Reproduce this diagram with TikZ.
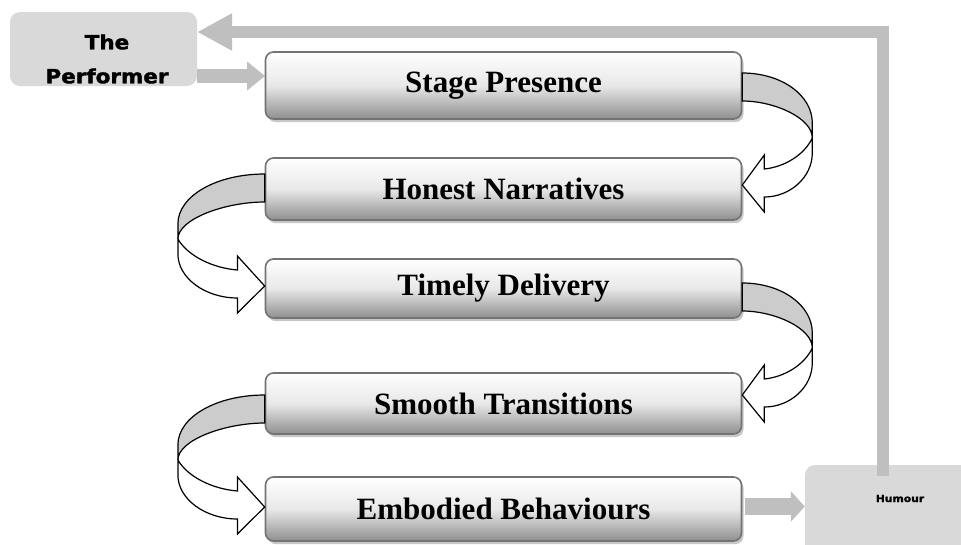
\documentclass[tikz,border=0pt]{standalone}
\usepackage{fontspec}
\setmainfont{Liberation Serif}
\newfontfamily\heavyfont[FakeStretch=1.1, BoldFeatures={FakeBold=1.8}]{DejaVu Sans}
\usetikzlibrary{arrows.meta,calc,shadows}
\begin{document}
\begin{tikzpicture}[x=1pt,y=-1pt,
  stepbox/.style={rounded corners=8pt, draw=black!55, line width=1.6pt,
    top color=white, bottom color=black!44, middle color=black!9,
    minimum width=476pt, inner sep=2pt,
    font=\fontsize{31}{31}\selectfont\bfseries,
    drop shadow={shadow xshift=2pt,shadow yshift=-3pt,fill=black!22,opacity=1}},
  lbox/.style={rounded corners=10pt, fill=black!15, inner sep=0pt},
  graybar/.style={draw=black!25, line join=miter},
  arrowline/.style={draw=black, line width=1.2pt, line join=miter},
  curvarrow/.pic={
    \draw[arrowline, fill=white] (70,65) .. controls (62,82) and (42,94) .. (22,96)
      -- (22,82) -- (0,112) -- (22,139) -- (22,124)
      .. controls (48,124) and (70,104) .. (70,80) -- cycle;
    \draw[arrowline, fill=black!20] (0,0) .. controls (39,0) and (70,22) .. (70,50)
      -- (70,65) .. controls (70,45) and (32,28) .. (0,28) -- cycle;
  }]
\useasboundingbox (0,0) rectangle (961,544);

% side boxes
\node[lbox, minimum width=187pt, minimum height=74pt] (performer) at (103.5,49) {};
\node[font=\heavyfont\bfseries\fontsize{19.5}{34}\selectfont, align=center] (perflabel) at (107,59) {The\\Performer};
\node[lbox, minimum width=170pt, minimum height=100pt] (humour) at (890,515) {};
\node[font=\heavyfont\bfseries\fontsize{9.8}{10}\selectfont, anchor=base] (humlabel) at (900,502) {Humour};

% feedback and gray arrows
\coordinate (fbstart) at ($(humour.north)+(-7,11)$);
\draw[graybar, line width=11.5pt, -{Triangle[length=35pt,width=35pt]}]
  (fbstart) |- ([yshift=17pt]performer.east);
\draw[graybar, line width=14pt, -{Triangle[length=18pt,width=28pt]}]
  ([yshift=-27pt]performer.east) -- ([yshift=-27pt]performer.east -| 265,0);

% step boxes
\node[stepbox, minimum height=67pt] (stage) at (503.5,85.5) {Stage Presence};
\node[stepbox, minimum height=62pt] (honest) at (503.5,189) {Honest Narratives};
\node[stepbox, minimum height=59pt] (timely) at (503.5,288.5) {Timely Delivery};
\node[stepbox, minimum height=61pt] (smooth) at (503.5,403.5) {Smooth Transitions};
\node[stepbox, minimum height=64pt] (embodied) at (503.5,509) {Embodied Behaviours};

\draw[graybar, line width=17pt, -{Triangle[length=14pt,width=30pt]}]
  ([yshift=2.5pt,xshift=3pt]embodied.east) -- ([yshift=2.5pt]embodied.east -| humour.west);

% curved arrows
\pic at ($(stage.east)+(0,-12.5)$) {curvarrow};
\pic[xscale=-1.24] at ($(honest.west)+(0,-15)$) {curvarrow};
\pic at ($(timely.east)+(0,-5.5)$) {curvarrow};
\pic[xscale=-1.24] at ($(smooth.west)+(0,-8.5)$) {curvarrow};
\end{tikzpicture}
\end{document}
